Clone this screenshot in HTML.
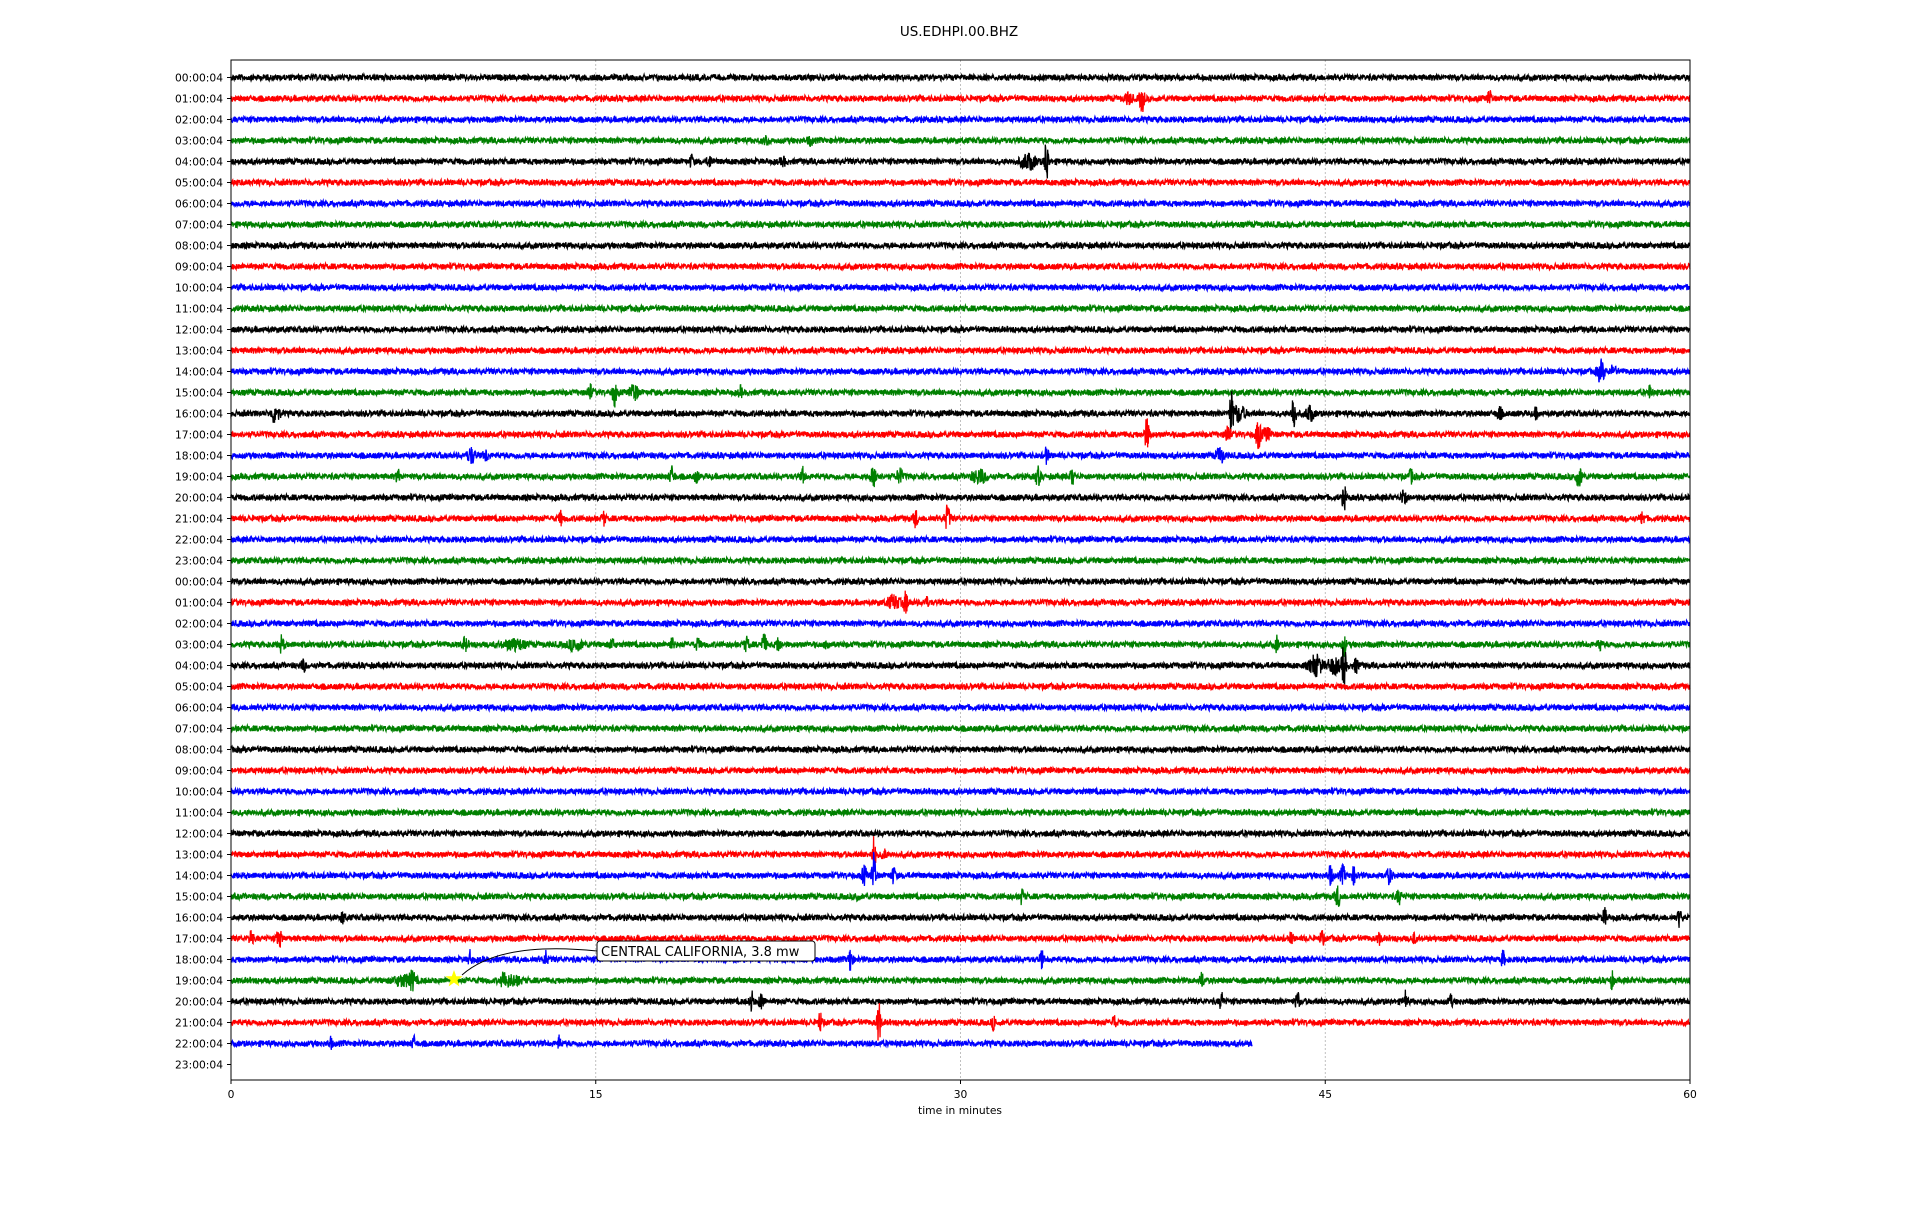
<!DOCTYPE html>
<html><head><meta charset="utf-8">
<style>
body{margin:0;background:#fff;}
svg text{font-family:"DejaVu Sans","Liberation Sans",sans-serif;}
</style></head>
<body>
<svg id="s" width="1920" height="1200" xmlns="http://www.w3.org/2000/svg">
<rect width="1920" height="1200" fill="#fff"/>
<text x="959" y="36" font-size="13.5" text-anchor="middle">US.EDHPI.00.BHZ</text>
<g id="grid"></g>
<g id="tr"></g>
<rect x="231" y="60" width="1459" height="1020" fill="none" stroke="#000" stroke-width="1"/>
<g id="ax" font-size="10.7"></g>
<text x="960" y="1114" font-size="10.7" text-anchor="middle">time in minutes</text>
<path d="M462,975 Q500,941 597,951" fill="none" stroke="#000" stroke-width="1"/>
<rect x="597" y="941" width="218" height="20" rx="3" fill="#fff" stroke="#000" stroke-width="1"/>
<text x="601" y="956" font-size="13">CENTRAL CALIFORNIA, 3.8 mw</text>
<polygon id="star" fill="#ffff00" stroke="#ffff00"/>
</svg>
<script>
var NS="http://www.w3.org/2000/svg";
var L=231,R=1690,T=60,B=1080,Y0=77.5,DY=21.0,S=1.224;
var cols=["#000000","#ff0000","#0000ff","#008000"];
var seed=12345;function rnd(){seed=(seed*1103515245+12345)&0x7fffffff;return seed/0x7fffffff;}
function sx(d){return d*S;}
var ev={
1:[[933,10,2],[922,4,3],[1217,6,1.5]],
3:[[626,4,1.5],[662,3,2]],
4:[[855,20,1.5],[840,6,6],[565,5,1.5],[580,4,2],[640,3,2]],
14:[[1308,8,3],[1318,5,2]],
15:[[502,12,1.5],[482,6,2],[518,7,3],[605,4,1.5],[1348,5,1.5]],
16:[[225,8,3],[1006,18,1.5],[1012,6,5],[1057,18,1.5],[1070,6,3],[1225,5,2],[1255,4,1.5]],
17:[[937,12,2],[1003,8,2],[1028,12,2],[1035,5,3]],
18:[[385,6,3],[397,4,2],[855,6,1.5],[997,6,3]],
19:[[325,5,1.5],[549,7,2],[569,5,1.5],[656,6,1.5],[714,7,3],[735,7,2],[800,5,6],[848,7,2],[876,6,1.5],[1153,5,2],[1290,7,3]],
20:[[1098,10,1.5],[1147,8,2]],
21:[[458,5,1.5],[493,5,1.5],[748,7,1.5],[774,10,2],[1342,6,1.5]],
25:[[730,5,5],[740,8,2],[757,4,1.5]],
27:[[230,6,2],[380,5,2],[420,4,8],[470,4,6],[500,4,2],[549,4,2],[570,4,2],[610,5,2],[624,8,2],[636,5,2],[676,4,1.5],[1043,6,1.5],[1098,10,1.5],[1307,5,1.5]],
28:[[1075,8,5],[1090,6,5],[1098,20,1.5],[1108,5,2],[248,4,2]],
37:[[714,14,1.5],[722,6,1.5]],
38:[[706,7,2],[714,20,1.5],[730,6,2],[1087,7,2],[1097,7,2],[1106,6,2],[1135,6,2]],
39:[[700,4,1.5],[835,6,1.5],[1093,8,2],[1143,5,2]],
40:[[280,5,1.5],[1311,7,1.5],[1372,7,1.5]],
41:[[205,7,1.5],[228,7,2],[1055,4,1.5],[1080,6,1.5],[1127,4,1.5],[1155,4,1.5]],
42:[[384,6,1.5],[446,6,1.5],[695,11,1.5],[851,7,1.5],[1228,6,1.5]],
43:[[330,4,8],[337,6,2],[412,6,3],[420,4,5],[982,6,1.5],[1317,6,1.5]],
44:[[614,8,1.5],[622,6,2],[998,7,1.5],[1060,8,1.5],[1148,8,1.5],[1185,5,1.5]],
45:[[670,8,1.5],[718,16,1.5],[812,6,1.5],[910,5,1.5]],
46:[[270,4,1.5],[338,5,1.5],[457,5,1.5]]
};
var tr=document.getElementById("tr"),ax=document.getElementById("ax"),gr=document.getElementById("grid");
[15,30,45].forEach(function(m){var x=L+m*(R-L)/60;var l=document.createElementNS(NS,"line");
l.setAttribute("x1",x);l.setAttribute("x2",x);l.setAttribute("y1",T);l.setAttribute("y2",B);
l.setAttribute("stroke","#b0b0b0");l.setAttribute("stroke-width","0.8");l.setAttribute("stroke-dasharray","2,2");gr.appendChild(l);});
for(var i=0;i<48;i++){
 var y=Y0+i*DY;
 var h=("0"+(i%24)).slice(-2)+":00:04";
 var t=document.createElementNS(NS,"text");t.setAttribute("x",L-8);t.setAttribute("y",y+4);t.setAttribute("text-anchor","end");t.textContent=h;ax.appendChild(t);
 var tk=document.createElementNS(NS,"line");tk.setAttribute("x1",L-4);tk.setAttribute("x2",L);tk.setAttribute("y1",y);tk.setAttribute("y2",y);tk.setAttribute("stroke","#000");ax.appendChild(tk);
 if(i==47)continue;
 var xe=(i==46)?L+42*(R-L)/60:R;
 var es=(ev[i]||[]).map(function(e){return [sx(e[0]),e[1]*S,e[2]*S];});
 var d="M"+L+","+y;
 for(var x=L;x<=xe;x+=0.34){
  var a=2.5+rnd()*0.9;
  for(var k=0;k<es.length;k++){var u=(x-es[k][0])/es[k][2];if(Math.abs(u)<4)a+=es[k][1]*Math.exp(-u*u);}
  var v=(rnd()*2-1)*a;
  d+="L"+x.toFixed(2)+","+(y+v).toFixed(1);
 }
 var p=document.createElementNS(NS,"path");p.setAttribute("d",d);p.setAttribute("fill","none");
 p.setAttribute("stroke",cols[i%4]);p.setAttribute("stroke-width","1.3");tr.appendChild(p);
}
[0,15,30,45,60].forEach(function(m){var x=L+m*(R-L)/60;
 var tk=document.createElementNS(NS,"line");tk.setAttribute("x1",x);tk.setAttribute("x2",x);tk.setAttribute("y1",B);tk.setAttribute("y2",B+4);tk.setAttribute("stroke","#000");ax.appendChild(tk);
 var t=document.createElementNS(NS,"text");t.setAttribute("x",x);t.setAttribute("y",B+18);t.setAttribute("text-anchor","middle");t.textContent=m;ax.appendChild(t);});
var cx=454,cy=979,pts=[];for(var k=0;k<10;k++){var r=k%2?3:7.5,an=-Math.PI/2+k*Math.PI/5;pts.push((cx+r*Math.cos(an)).toFixed(1)+","+(cy+r*Math.sin(an)).toFixed(1));}
document.getElementById("star").setAttribute("points",pts.join(" "));
</script>
</body></html>
